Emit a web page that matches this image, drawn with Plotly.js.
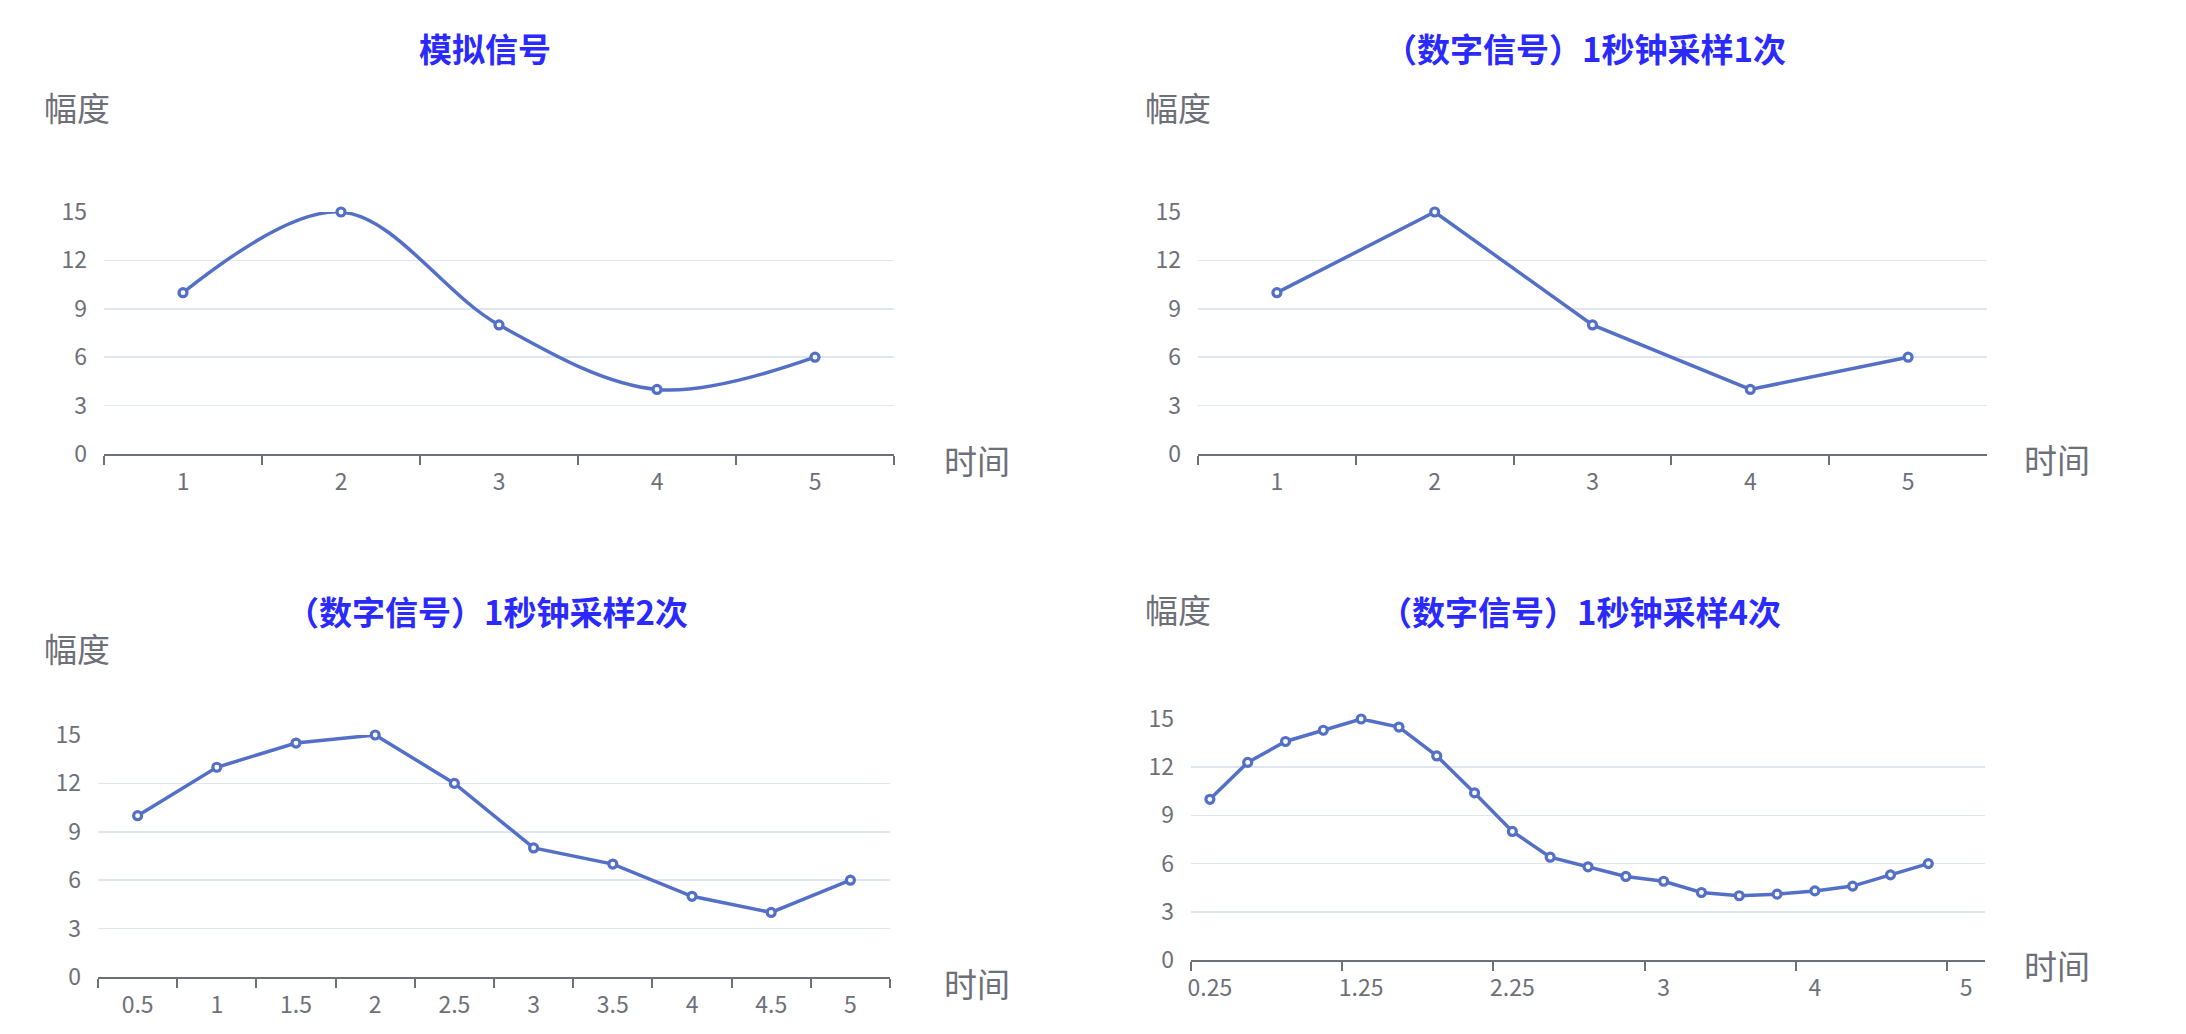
<!DOCTYPE html>
<html>
<head>
<meta charset="utf-8">
<script src="https://cdn.plot.ly/plotly-3.0.1.min.js"></script>
<style>html,body{margin:0;padding:0;background:#fff;}#chart{width:2186px;height:1034px;}</style>
</head>
<body>
<div id="chart"></div>
<script>
// ---- data ----
const titles = ['模拟信号', '（数字信号）1秒钟采样1次', '（数字信号）1秒钟采样2次', '（数字信号）1秒钟采样4次'];
const yName = '幅度';
const xName = '时间';
const yTicks = [0, 3, 6, 9, 12, 15];

const time1 = ['1', '2', '3', '4', '5'];
const analog = [10, 15, 8, 4, 6];
const sample1 = [10, 15, 8, 4, 6];

const time2 = ['0.5', '1', '1.5', '2', '2.5', '3', '3.5', '4', '4.5', '5'];
const sample2 = [10, 13, 14.5, 15, 12, 8, 7, 5, 4, 6];

const time4 = ['0.25', '0.5', '0.75', '1', '1.25', '1.5', '1.75', '2', '2.25', '2.5', '2.75', '2.875',
               '3', '3.25', '3.5', '3.75', '4', '4.25', '4.5', '4.75', '5'];
const sample4 = [10, 12.3, 13.6, 14.3, 15, 14.5, 12.7, 10.4, 8, 6.4, 5.8, 5.2, 4.9, 4.2, 4.0, 4.1, 4.3, 4.6, 5.3, 6];

// ---- layout helpers ----
const W = 2186, H = 1034;
const px = v => v / W;
const py = v => 1 - v / H;
const FONT = '"Noto Sans CJK SC", "Microsoft YaHei", sans-serif';
const LINE = '#5470c6';
const AXIS = '#6E7079';
const GRID = '#E0E6F1';

function trace(x, y, xa, ya, smooth) {
  return {
    type: 'scatter', mode: 'lines+markers', x: x, y: y, xaxis: xa, yaxis: ya,
    cliponaxis: false, showlegend: false, hoverinfo: 'x+y',
    line: {color: LINE, width: 3.5, shape: smooth ? 'spline' : 'linear', smoothing: 1},
    marker: {symbol: 'circle', size: 8, color: '#ffffff', line: {color: LINE, width: 3.2}}
  };
}

const data = [
  trace(time1, analog, 'x', 'y', true),
  trace(time1, sample1, 'x2', 'y2', false),
  trace(time2, sample2, 'x3', 'y3', false),
  trace(time4.slice(0, sample4.length), sample4, 'x4', 'y4', false)
];

// plot rectangles in pixels: [left, right, top, bottom]
const boxes = [
  [104, 894, 212, 454],
  [1198, 1987, 212, 454],
  [98, 890, 735, 977],
  [1191, 1985, 719, 960]
];
const cats = [time1, time1, time2, time4];
const dticks = [1, 1, 1, 4];

const layout = {
  width: W, height: H,
  margin: {l: 0, r: 0, t: 0, b: 0},
  paper_bgcolor: '#ffffff', plot_bgcolor: '#ffffff',
  font: {family: FONT, color: AXIS},
  showlegend: false,
  annotations: []
};

boxes.forEach((b, i) => {
  const n = i === 0 ? '' : String(i + 1);
  layout['xaxis' + n] = {
    domain: [px(b[0]), px(b[1])],
    anchor: 'y' + n,
    type: 'category',
    categoryorder: 'array', categoryarray: cats[i],
    range: [-0.5, cats[i].length - 0.5],
    tickmode: 'linear', tick0: 0, dtick: dticks[i],
    tickson: 'boundaries',
    tickangle: 0,
    ticks: 'outside', ticklen: 9, tickwidth: 2, tickcolor: AXIS,
    ticklabelstandoff: 6,
    showline: true, linecolor: AXIS, linewidth: 2,
    showgrid: false, zeroline: false,
    tickfont: {family: FONT, size: 23, color: AXIS},
    fixedrange: true
  };
  layout['yaxis' + n] = {
    domain: [py(b[3]), py(b[2])],
    anchor: 'x' + n,
    range: [0, 15],
    tickmode: 'array', tickvals: yTicks,
    ticks: '', ticklabelstandoff: 16,
    showline: false, zeroline: false,
    showgrid: true, gridcolor: GRID, gridwidth: 1.75,
    tickfont: {family: FONT, size: 23, color: AXIS},
    fixedrange: true
  };
});

const titlePos = [[485, 48], [1585, 48], [487, 611], [1580, 611]];
const yNamePos = [[77, 107], [1178, 107], [77, 648], [1178, 609]];
const xNamePos = [[977, 460], [2057, 459], [977, 983], [2057, 965]];

titles.forEach((t, i) => {
  layout.annotations.push({
    text: '<b>' + t + '</b>', xref: 'paper', yref: 'paper',
    x: px(titlePos[i][0]), y: py(titlePos[i][1]), xanchor: 'center', yanchor: 'middle',
    showarrow: false, font: {family: FONT, size: 33, color: '#2a2aff'}
  });
  layout.annotations.push({
    text: yName, xref: 'paper', yref: 'paper',
    x: px(yNamePos[i][0]), y: py(yNamePos[i][1]), xanchor: 'center', yanchor: 'middle',
    showarrow: false, font: {family: FONT, size: 33, color: AXIS}
  });
  layout.annotations.push({
    text: xName, xref: 'paper', yref: 'paper',
    x: px(xNamePos[i][0]), y: py(xNamePos[i][1]), xanchor: 'center', yanchor: 'middle',
    showarrow: false, font: {family: FONT, size: 33, color: AXIS}
  });
});

Plotly.newPlot('chart', data, layout, {staticPlot: true, displayModeBar: false});
</script>
</body>
</html>
